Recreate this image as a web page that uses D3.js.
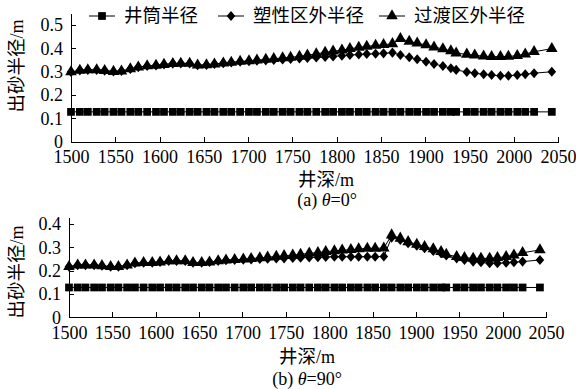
<!DOCTYPE html>
<html>
<head>
<meta charset="utf-8">
<script src="https://cdn.jsdelivr.net/npm/d3@7"></script>
<style>
  body { margin: 0; background: #fff; }
  svg { display: block; }
  .axis path, .axis line { stroke: #000; stroke-width: 1; shape-rendering: crispEdges; }
  .axis text { font-family: "Liberation Serif", serif; font-size: 18px; fill: #000; }
  .cjk { font-family: "Noto Sans CJK SC", sans-serif; font-size: 18.5px; fill: #000; }
  .serif { font-family: "Liberation Serif", serif; font-size: 18px; fill: #000; }
</style>
</head>
<body>
<svg id="chart" width="576" height="389"></svg>
<script>
// well depth (m), shared by both panels
const depths = [
  1500, 1510, 1519, 1529, 1538, 1548, 1557, 1567, 1576, 1586,
  1596, 1605, 1615, 1624, 1634, 1643, 1653, 1662, 1672, 1681,
  1691, 1701, 1710, 1720, 1729, 1739, 1748, 1758, 1767, 1777,
  1787, 1796, 1806, 1815, 1825, 1834, 1844, 1853, 1863, 1872,
  1882, 1891, 1901, 1910, 1920, 1929, 1935, 1947, 1956, 1966,
  1975, 1985, 1994, 2004, 2013, 2023, 2043
];

const wellboreRadius = [
  0.128, 0.128, 0.128, 0.128, 0.128, 0.128, 0.128, 0.128, 0.128, 0.128,
  0.128, 0.128, 0.128, 0.128, 0.128, 0.128, 0.128, 0.128, 0.128, 0.128,
  0.128, 0.128, 0.128, 0.128, 0.128, 0.128, 0.128, 0.128, 0.128, 0.128,
  0.128, 0.128, 0.128, 0.128, 0.128, 0.128, 0.128, 0.128, 0.128, 0.128,
  0.128, 0.128, 0.128, 0.128, 0.128, 0.128, 0.128, 0.128, 0.128, 0.128,
  0.128, 0.128, 0.128, 0.128, 0.128, 0.128, 0.128
];

// (a) theta = 0
const plasticA = [
  0.299, 0.306, 0.308, 0.308, 0.305, 0.301, 0.303, 0.312, 0.320, 0.325,
  0.327, 0.331, 0.335, 0.336, 0.336, 0.328, 0.329, 0.333, 0.337, 0.340,
  0.343, 0.345, 0.347, 0.349, 0.351, 0.353, 0.355, 0.357, 0.359, 0.361,
  0.363, 0.366, 0.369, 0.372, 0.374, 0.376, 0.377, 0.379, 0.382, 0.372,
  0.362, 0.354, 0.343, 0.333, 0.325, 0.315, 0.308, 0.299, 0.294, 0.289,
  0.286, 0.283, 0.283, 0.286, 0.289, 0.294, 0.300
];
const transitionA = [
  0.299, 0.306, 0.308, 0.308, 0.305, 0.301, 0.303, 0.312, 0.320, 0.325,
  0.327, 0.331, 0.335, 0.336, 0.336, 0.328, 0.329, 0.333, 0.337, 0.340,
  0.344, 0.347, 0.350, 0.353, 0.356, 0.359, 0.362, 0.366, 0.371, 0.377,
  0.383, 0.388, 0.393, 0.399, 0.404, 0.409, 0.413, 0.416, 0.420, 0.442,
  0.430, 0.423, 0.415, 0.406, 0.398, 0.389, 0.380, 0.375, 0.371, 0.367,
  0.365, 0.365, 0.366, 0.369, 0.376, 0.386, 0.399
];

// (b) theta = 90
const plasticB = [
  0.217, 0.224, 0.224, 0.224, 0.221, 0.217, 0.217, 0.224, 0.232, 0.234,
  0.234, 0.237, 0.242, 0.242, 0.242, 0.234, 0.234, 0.237, 0.242, 0.245,
  0.246, 0.247, 0.248, 0.250, 0.251, 0.252, 0.253, 0.255, 0.256, 0.257,
  0.258, 0.259, 0.260, 0.260, 0.260, 0.260, 0.260, 0.260, 0.261, 0.342,
  0.332, 0.318, 0.307, 0.296, 0.285, 0.275, 0.265, 0.253, 0.246, 0.239,
  0.236, 0.232, 0.232, 0.234, 0.236, 0.239, 0.246
];
const transitionB = [
  0.217, 0.224, 0.224, 0.224, 0.221, 0.217, 0.217, 0.224, 0.232, 0.234,
  0.234, 0.237, 0.242, 0.242, 0.242, 0.234, 0.234, 0.237, 0.242, 0.245,
  0.247, 0.249, 0.252, 0.255, 0.258, 0.261, 0.264, 0.267, 0.270, 0.275,
  0.277, 0.282, 0.285, 0.288, 0.290, 0.293, 0.296, 0.296, 0.297, 0.353,
  0.339, 0.324, 0.313, 0.303, 0.293, 0.282, 0.270, 0.260, 0.256, 0.253,
  0.253, 0.253, 0.256, 0.260, 0.267, 0.277, 0.289
];

const seriesNames = ['井筒半径', '塑性区外半径', '过渡区外半径'];
const xTicks = [1500, 1550, 1600, 1650, 1700, 1750, 1800, 1850, 1900, 1950, 2000, 2050];
const yTicksA = [0, 0.1, 0.2, 0.3, 0.4, 0.5];
const yTicksB = [0, 0.1, 0.2, 0.3, 0.4];

// diamond a bit wider than d3's built-in one
const wideDiamond = {
  draw(context, size) {
    const r = Math.sqrt(size / 2);
    context.moveTo(0, -r * 1.05);
    context.lineTo(r * 0.9, 0);
    context.lineTo(0, r * 1.05);
    context.lineTo(-r * 0.9, 0);
    context.closePath();
  }
};
const symbols = [
  d3.symbol().type(d3.symbolSquare).size(60),
  d3.symbol().type(wideDiamond).size(46),
  d3.symbol().type(d3.symbolTriangle).size(58)
];

class RadiusChart {

  constructor(_config, _data) {
    this.config = {
      svg: _config.svg,
      left: _config.left,
      top: _config.top,
      width: _config.width,
      height: _config.height,
      yMax: _config.yMax,
      yTicks: _config.yTicks,
      yTitleY: _config.yTitleY,
      xTitle: _config.xTitle,
      caption: _config.caption,
      legend: _config.legend
    };
    this.data = _data;
    this.initVis();
  }

  initVis() {
    let vis = this;
    const c = vis.config;

    vis.xScale = d3.scaleLinear().domain([1500, 2050]).range([0, c.width]);
    vis.yScale = d3.scaleLinear().domain([0, c.yMax]).range([c.height, 0]);

    vis.chart = c.svg.append('g')
        .attr('transform', `translate(${c.left},${c.top})`);

    // ticks point inward on both axes
    vis.xAxis = d3.axisBottom(vis.xScale)
        .tickValues(xTicks)
        .tickFormat(d3.format('d'))
        .tickSizeInner(-5)
        .tickSizeOuter(0)
        .tickPadding(9);
    vis.yAxis = d3.axisLeft(vis.yScale)
        .tickValues(c.yTicks)
        .tickFormat(d => d === 0 ? '0' : d3.format('.1f')(d))
        .tickSizeInner(-5)
        .tickSizeOuter(0)
        .tickPadding(8);

    vis.chart.append('g')
        .attr('class', 'axis x-axis')
        .attr('transform', `translate(0,${c.height})`)
        .call(vis.xAxis);
    vis.chart.append('g')
        .attr('class', 'axis y-axis')
        .call(vis.yAxis);
    vis.chart.selectAll('.axis .domain').attr('fill', 'none');

    // y title
    const yt = c.svg.append('text')
        .attr('transform', `translate(17,${c.yTitleY}) rotate(-90)`)
        .attr('text-anchor', 'middle')
        .attr('dy', '0.35em')
        .attr('class', 'cjk');
    yt.append('tspan').text('出砂半径');
    yt.append('tspan').attr('class', 'serif').text('/m');

    // x title
    const xt = c.svg.append('text')
        .attr('x', c.xTitle[0])
        .attr('y', c.xTitle[1])
        .attr('text-anchor', 'middle')
        .attr('dy', '0.35em')
        .attr('class', 'cjk');
    xt.append('tspan').text('井深');
    xt.append('tspan').attr('class', 'serif').text('/m');

    // caption
    const cap = c.svg.append('text')
        .attr('x', c.caption.x)
        .attr('y', c.caption.y)
        .attr('text-anchor', 'middle')
        .attr('dy', '0.35em')
        .attr('class', 'serif');
    cap.append('tspan').text(c.caption.label + ' ');
    cap.append('tspan').attr('font-style', 'italic').text('θ');
    cap.append('tspan').text('=' + c.caption.angle + '°');

    vis.updateVis();
  }

  updateVis() {
    let vis = this;
    vis.series = vis.data.map((vals, i) => ({
      name: seriesNames[i],
      index: i,
      points: depths.map((d, j) => ({ depth: d, value: vals[j] }))
    }));
    vis.renderVis();
  }

  renderVis() {
    let vis = this;
    const c = vis.config;

    const line = d3.line()
        .x(d => vis.xScale(d.depth))
        .y(d => vis.yScale(d.value));

    const groups = vis.chart.selectAll('.series')
        .data(vis.series)
      .join('g')
        .attr('class', 'series');

    groups.append('path')
        .attr('d', d => line(d.points))
        .attr('fill', 'none')
        .attr('stroke', '#000')
        .attr('stroke-width', 1);

    groups.each(function(s) {
      d3.select(this).selectAll('.mark')
          .data(s.points)
        .join('path')
          .attr('class', 'mark')
          .attr('transform', d => `translate(${vis.xScale(d.depth)},${vis.yScale(d.value)})`)
          .attr('d', symbols[s.index])
          .attr('fill', '#000');
    });

    if (c.legend) {
      const items = c.svg.append('g').attr('class', 'legend')
          .selectAll('g')
          .data(vis.series)
        .join('g')
          .attr('transform', (d, i) => `translate(${c.legend.x[i]},${c.legend.y})`);
      items.append('line')
          .attr('x1', 0).attr('x2', 26)
          .attr('stroke', '#000');
      items.append('path')
          .attr('transform', 'translate(13,0)')
          .attr('d', d => symbols[d.index]());
      items.append('text')
          .attr('class', 'cjk')
          .attr('x', 35)
          .attr('dy', '0.35em')
          .text(d => d.name);
    }
  }
}

const svg = d3.select('#chart');

new RadiusChart({
  svg: svg,
  left: 71, top: 13.5, width: 487, height: 128.2,
  yMax: 0.55, yTicks: yTicksA, yTitleY: 66,
  xTitle: [326, 180],
  caption: { x: 327, y: 200, label: '(a)', angle: '0' },
  legend: { x: [89, 218, 379], y: 16 }
}, [wellboreRadius, plasticA, transitionA]);

new RadiusChart({
  svg: svg,
  left: 69, top: 217.1, width: 477, height: 100.2,
  yMax: 0.43, yTicks: yTicksB, yTitleY: 272,
  xTitle: [307, 357],
  caption: { x: 307, y: 379, label: '(b)', angle: '90' },
  legend: null
}, [wellboreRadius, plasticB, transitionB]);
</script>
</body>
</html>
